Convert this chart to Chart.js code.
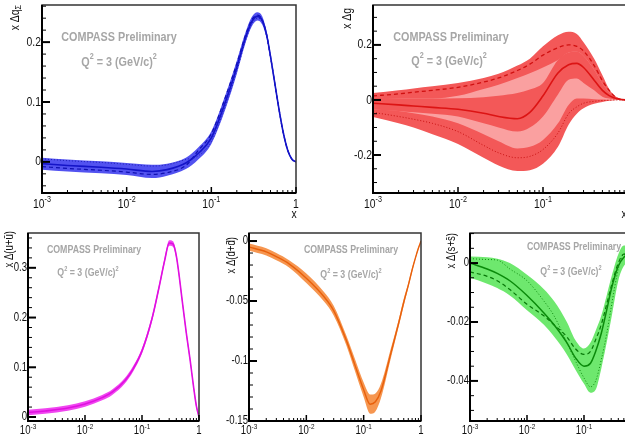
<!DOCTYPE html>
<html>
<head>
<meta charset="utf-8">
<script src="https://cdn.jsdelivr.net/npm/chart.js@4.4.1/dist/chart.umd.min.js"></script>
<style>
html, body { margin: 0; padding: 0; background: #fff; }
#wrap { position: relative; width: 625px; height: 439px; overflow: hidden; background: #fff; }
canvas { position: absolute; }
</style>
</head>
<body>
<div id="wrap">
  <canvas id="pq"></canvas>
  <canvas id="pg"></canvas>
  <canvas id="pu"></canvas>
  <canvas id="pd"></canvas>
  <canvas id="ps"></canvas>
</div>
<script>
// x axis ticks, shared by every panel (log scale 1e-3 .. 1)
const xTickVals = [0.001, 0.01, 0.1, 1]
const xTickBase = ['10', '10', '10', '1']
const xTickExp = ['-3', '-2', '-1', '']

// x Δq_Σ  (blue)
const qX    = [0.001, 0.002, 0.005, 0.01, 0.02, 0.03, 0.05, 0.07, 0.1, 0.15, 0.2, 0.25, 0.3, 0.35, 0.4, 0.45, 0.5, 0.6, 0.7, 0.8, 0.9, 1]
const qMid  = [-0.003, -0.006, -0.009, -0.012, -0.016, -0.013, -0.002, 0.014, 0.040, 0.104, 0.158, 0.205, 0.234, 0.243, 0.236, 0.212, 0.176, 0.106, 0.052, 0.019, 0.004, 0]
const qUp   = [0.007, 0.004, 0.001, -0.002, -0.005, -0.003, 0.007, 0.024, 0.051, 0.116, 0.169, 0.214, 0.242, 0.250, 0.243, 0.218, 0.181, 0.110, 0.055, 0.021, 0.005, 0.001]
const qLo   = [-0.013, -0.016, -0.019, -0.022, -0.027, -0.023, -0.012, 0.004, 0.030, 0.092, 0.147, 0.196, 0.226, 0.236, 0.229, 0.206, 0.171, 0.102, 0.049, 0.017, 0.003, 0]
const qDash = [-0.008, -0.011, -0.014, -0.017, -0.021, -0.018, -0.006, 0.019, 0.047, 0.112, 0.164, 0.209, 0.237, 0.245, 0.237, 0.212, 0.176, 0.106, 0.052, 0.019, 0.004, 0]
const qDot  = [0.005, 0.002, -0.001, -0.004, -0.007, -0.005, 0.004, 0.010, 0.034, 0.097, 0.152, 0.200, 0.230, 0.240, 0.234, 0.210, 0.175, 0.105, 0.051, 0.019, 0.004, 0]
const qYTicks = [0, 0.1, 0.2]
const qYLabels = ['0', '0.1', '0.2']

// x Δg  (red)
const gX    = [0.001, 0.002, 0.003, 0.005, 0.01, 0.02, 0.03, 0.05, 0.07, 0.1, 0.15, 0.2, 0.25, 0.3, 0.4, 0.5, 0.6, 0.7, 0.8, 1]
const gTop  = [0.025, 0.035, 0.042, 0.050, 0.062, 0.080, 0.095, 0.125, 0.150, 0.195, 0.235, 0.248, 0.240, 0.210, 0.150, 0.090, 0.040, 0.015, 0.004, 0]
const gDash = [0.015, 0.022, 0.028, 0.035, 0.046, 0.065, 0.080, 0.107, 0.130, 0.163, 0.190, 0.200, 0.195, 0.178, 0.125, 0.070, 0.035, 0.012, 0.003, 0]
const gPkHi = [0.008, 0.006, 0.005, 0.005, 0.015, 0.040, 0.055, 0.080, 0.097, 0.118, 0.145, 0.172, 0.175, 0.160, 0.110, 0.060, 0.028, 0.011, 0.003, 0]
const gInHi = [0.008, 0.006, 0.005, 0.005, 0.006, 0.010, 0.015, 0.025, 0.038, 0.062, 0.145, 0.172, 0.175, 0.160, 0.110, 0.060, 0.028, 0.011, 0.003, 0]
const gMid  = [-0.012, -0.018, -0.022, -0.027, -0.034, -0.048, -0.060, -0.068, -0.045, 0.015, 0.098, 0.128, 0.133, 0.118, 0.072, 0.035, 0.016, 0.007, 0.002, 0]
const gInLo = [-0.035, -0.040, -0.045, -0.050, -0.060, -0.085, -0.100, -0.115, -0.100, -0.060, 0.020, 0.073, 0.078, 0.062, 0.035, 0.012, 0.005, 0.002, 0, 0]
const gPkLo = [-0.035, -0.040, -0.048, -0.060, -0.085, -0.125, -0.150, -0.176, -0.170, -0.145, -0.085, -0.018, 0.005, 0.005, 0.003, 0.002, 0.001, 0, 0, 0]
const gDot  = [-0.045, -0.060, -0.070, -0.085, -0.115, -0.165, -0.192, -0.210, -0.205, -0.180, -0.120, -0.050, -0.025, -0.012, -0.005, -0.002, -0.001, 0, 0, 0]
const gBot  = [-0.062, -0.085, -0.100, -0.125, -0.160, -0.210, -0.238, -0.258, -0.255, -0.232, -0.170, -0.090, -0.050, -0.030, -0.014, -0.007, -0.003, -0.001, 0, 0]
const gYTicks = [-0.2, 0, 0.2]
const gYLabels = ['-0.2', '0', '0.2']

// x Δ(u+ū)  (magenta)
const uX   = [0.001, 0.002, 0.005, 0.01, 0.02, 0.03, 0.05, 0.07, 0.1, 0.15, 0.2, 0.25, 0.3, 0.35, 0.4, 0.45, 0.5, 0.6, 0.7, 0.8, 0.9, 1]
const uMid = [0.009, 0.012, 0.018, 0.026, 0.039, 0.050, 0.073, 0.097, 0.133, 0.198, 0.262, 0.315, 0.350, 0.348, 0.324, 0.283, 0.240, 0.168, 0.114, 0.062, 0.022, 0]
const uUp  = [0.0145, 0.0175, 0.0235, 0.0315, 0.0445, 0.0555, 0.0785, 0.1025, 0.1385, 0.2035, 0.2675, 0.3205, 0.3555, 0.3535, 0.3295, 0.2885, 0.2455, 0.1735, 0.1195, 0.0665, 0.0265, 0.002]
const uLo  = [0.0035, 0.0065, 0.0125, 0.0205, 0.0335, 0.0445, 0.0675, 0.0915, 0.1275, 0.1925, 0.2565, 0.3095, 0.3445, 0.3425, 0.3185, 0.2775, 0.2345, 0.1625, 0.1085, 0.0575, 0.0175, 0]
const uYTicks = [0, 0.1, 0.2, 0.3]
const uYLabels = ['0', '0.1', '0.2', '0.3']

// x Δ(d+d̄)  (orange)
const dX   = [0.001, 0.002, 0.003, 0.005, 0.01, 0.02, 0.03, 0.05, 0.07, 0.1, 0.13, 0.16, 0.2, 0.3, 0.4, 0.5, 0.6, 0.7, 0.8, 0.9, 1]
const dMid = [-0.005, -0.009, -0.013, -0.019, -0.031, -0.046, -0.058, -0.083, -0.103, -0.124, -0.136, -0.134, -0.125, -0.093, -0.070, -0.051, -0.037, -0.024, -0.014, -0.006, 0]
const dUp  = [-0.002, -0.006, -0.010, -0.016, -0.027, -0.042, -0.054, -0.079, -0.098, -0.118, -0.128, -0.127, -0.119, -0.089, -0.067, -0.048, -0.035, -0.022, -0.013, -0.005, 0]
const dLo  = [-0.008, -0.012, -0.016, -0.022, -0.035, -0.050, -0.062, -0.087, -0.108, -0.130, -0.144, -0.142, -0.131, -0.097, -0.073, -0.054, -0.039, -0.026, -0.015, -0.007, 0]
const dYTicks = [-0.15, -0.1, -0.05, 0]
const dYLabels = ['-0.15', '-0.1', '-0.05', '0']

// x Δ(s+s̄)  (green)
const sX    = [0.001, 0.002, 0.003, 0.005, 0.01, 0.02, 0.03, 0.05, 0.07, 0.1, 0.13, 0.16, 0.2, 0.25, 0.3, 0.4, 0.5, 0.6, 0.7, 0.8, 1]
const sMid  = [0.000, -0.002, -0.0035, -0.006, -0.011, -0.017, -0.021, -0.027, -0.032, -0.035, -0.034, -0.030, -0.024, -0.016, -0.009, -0.001, 0.002, 0.003, 0.002, 0.001, 0]
const sUp   = [0.0022, 0.002, 0.0015, 0.000, -0.004, -0.009, -0.013, -0.020, -0.026, -0.029, -0.027, -0.023, -0.018, -0.011, -0.005, 0.003, 0.006, 0.006, 0.005, 0.003, 0]
const sLo   = [-0.005, -0.007, -0.0085, -0.011, -0.016, -0.021, -0.025, -0.031, -0.036, -0.041, -0.044, -0.043, -0.036, -0.027, -0.019, -0.006, -0.001, 0, 0, 0, 0]
const sDash = [-0.003, -0.0045, -0.006, -0.009, -0.014, -0.018, -0.021, -0.025, -0.029, -0.031, -0.030, -0.026, -0.021, -0.014, -0.008, 0.000, 0.003, 0.003, 0.002, 0.001, 0]
const sDot  = [0.0015, 0.0012, 0.001, -0.002, -0.006, -0.013, -0.018, -0.027, -0.033, -0.039, -0.042, -0.040, -0.033, -0.024, -0.015, -0.002, 0.003, 0.003, 0.002, 0.001, 0]
const sYTicks = [-0.04, -0.02, 0]
const sYLabels = ['-0.04', '-0.02', '0']

// Arial-like face squeezed horizontally, close to the narrow Helvetica of the original
const FACE = '"Liberation Sans", Arial, sans-serif'
const COND = 0.8
const GREY = '#a6a6a6'

function pts(xs, ys) {
    return xs.map((x, i) => ({x: x, y: ys[i]}))
}

function line(xs, ys, color, width, dash) {
    return {
        data: pts(xs, ys), borderColor: color, borderWidth: width, borderDash: dash || [],
        pointRadius: 0, fill: false, cubicInterpolationMode: 'monotone'
    }
}

// upper edge of a band, filled down to the next dataset
function bandTop(xs, ys, color) {
    return {
        data: pts(xs, ys), borderColor: 'rgba(0,0,0,0)', borderWidth: 0, backgroundColor: color,
        pointRadius: 0, fill: '+1', cubicInterpolationMode: 'monotone'
    }
}

function bandBottom(xs, ys) {
    return {
        data: pts(xs, ys), borderColor: 'rgba(0,0,0,0)', borderWidth: 0,
        pointRadius: 0, fill: false, cubicInterpolationMode: 'monotone'
    }
}

// text with superscript / subscript pieces: parts = [[text, 'n'|'sup'|'sub'], ...]
function rich(ctx, parts, x, y, size, align, bold) {
    const font = (s) => (bold ? 'bold ' : '') + s + 'px ' + FACE
    const sz = (k) => k === 'n' ? size : Math.round(size * 0.68)
    let total = 0
    const widths = parts.map(([t, k]) => {
        ctx.font = font(sz(k))
        const w = ctx.measureText(t).width * COND
        total += w
        return w
    })
    let cx = align === 'center' ? x - total / 2 : align === 'right' ? x - total : x
    ctx.textAlign = 'left'
    ctx.textBaseline = 'middle'
    parts.forEach(([t, k], i) => {
        ctx.font = font(sz(k))
        const dy = k === 'sup' ? -size * 0.38 : k === 'sub' ? size * 0.3 : 0
        ctx.save()
        ctx.translate(cx, y + dy)
        ctx.scale(COND, 1)
        ctx.fillText(t, 0, 0)
        ctx.restore()
        cx += widths[i]
    })
}

function drawDeco(chart, cfg) {
    const {ctx, chartArea: a, scales: {x, y}} = chart
    const ox = cfg.left, oy = cfg.top
    ctx.save()

    // frame
    ctx.strokeStyle = '#333'
    ctx.lineWidth = 1.5
    ctx.strokeRect(a.left, a.top, a.right - a.left, a.bottom - a.top)
    ctx.strokeStyle = '#000'
    ctx.lineWidth = 2
    ctx.beginPath()
    ctx.moveTo(a.left, a.top)
    ctx.lineTo(a.left, a.bottom)
    ctx.lineTo(a.right, a.bottom)
    ctx.stroke()

    // y ticks (inside)
    const k0 = Math.ceil(y.min / cfg.yStep - 1e-6)
    const k1 = Math.floor(y.max / cfg.yStep + 1e-6)
    for (let k = k0; k <= k1; k++) {
        const v = k * cfg.yStep
        const major = cfg.yTicks.some(t => Math.abs(t - v) < cfg.yStep / 10)
        const py = y.getPixelForValue(v)
        ctx.lineWidth = major ? 2 : 1
        ctx.beginPath()
        ctx.moveTo(a.left, py)
        ctx.lineTo(a.left + (major ? 8 : 4), py)
        ctx.stroke()
    }
    // x ticks (log)
    for (let n = -3; n <= 0; n++) {
        for (let m = 1; m <= 9; m++) {
            const v = m * Math.pow(10, n)
            if (v > x.max * 1.0001) break
            const px = x.getPixelForValue(v)
            ctx.lineWidth = m === 1 ? 1.5 : 1
            ctx.beginPath()
            ctx.moveTo(px, a.bottom)
            ctx.lineTo(px, a.bottom - (m === 1 ? 6 : 3))
            ctx.stroke()
        }
    }

    // tick labels
    ctx.fillStyle = '#111'
    cfg.yTicks.forEach((v, i) => {
        rich(ctx, [[cfg.yLabels[i], 'n']], a.left - 1, y.getPixelForValue(v), cfg.tick, 'right')
    })
    xTickVals.forEach((v, i) => {
        const parts = [[xTickBase[i], 'n']]
        if (xTickExp[i]) parts.push([xTickExp[i], 'sup'])
        rich(ctx, parts, x.getPixelForValue(v), a.bottom + cfg.xLab, cfg.tick, 'center')
    })
    if (cfg.xTitle) rich(ctx, [['x', 'n']], cfg.xTitle[0] - ox, cfg.xTitle[1] - oy, cfg.tick, 'center')

    // y title, rotated
    ctx.save()
    ctx.translate(cfg.yTitle[0] - ox, cfg.yTitle[1] - oy)
    ctx.rotate(-Math.PI / 2)
    rich(ctx, cfg.yTitleParts, 0, 0, cfg.tick, 'right')
    ctx.restore()

    // annotations
    ctx.fillStyle = GREY
    rich(ctx, [['COMPASS Preliminary', 'n']], cfg.tag[0] - ox, cfg.tag[1] - oy, cfg.tagSize, 'center', true)
    rich(ctx, [['Q', 'n'], ['2', 'sup'], [' = 3 (GeV/c)', 'n'], ['2', 'sup']],
        cfg.q2[0] - ox, cfg.q2[1] - oy, cfg.q2Size, 'center', true)
    ctx.restore()
}

function panel(id, cfg) {
    const cv = document.getElementById(id)
    cv.width = cfg.w
    cv.height = cfg.h
    cv.style.width = cfg.w + 'px'
    cv.style.height = cfg.h + 'px'
    cv.style.left = cfg.left + 'px'
    cv.style.top = cfg.top + 'px'
    const f = cfg.frame
    new Chart(cv, {
        type: 'line',
        data: {datasets: cfg.datasets},
        options: {
            responsive: false,
            animation: false,
            events: [],
            layout: {
                padding: {left: f[0] - cfg.left, top: f[1] - cfg.top, right: cfg.left + cfg.w - f[2], bottom: cfg.top + cfg.h - f[3]}
            },
            plugins: {legend: {display: false}, tooltip: {enabled: false}},
            scales: {
                x: {type: 'logarithmic', min: 0.001, max: 1, display: false},
                y: {type: 'linear', min: cfg.yMin, max: cfg.yMax, display: false}
            }
        },
        plugins: [{id: 'deco', afterDraw: (chart) => drawDeco(chart, cfg)}]
    })
}

// top left: x Δq_Σ
panel('pq', {
    left: 0, top: 0, w: 310, h: 220, frame: [42, 5, 296, 193],
    yMin: -0.052, yMax: 0.262, yStep: 0.02, yTicks: qYTicks, yLabels: qYLabels,
    tick: 13, xLab: 11, xTitle: [294, 214],
    yTitle: [15, 5], yTitleParts: [['x Δq', 'n'], ['Σ', 'sub']],
    tag: [119, 37], tagSize: 13.5, q2: [119, 62], q2Size: 13.5,
    datasets: [
        line(qX, qMid, '#1414c8', 1.6),
        line(qX, qDash, '#1010b0', 1.2, [4, 3]),
        line(qX, qDot, '#2020b8', 1, [1, 2]),
        bandTop(qX, qUp, 'rgb(82, 82, 240)'),
        bandBottom(qX, qLo)
    ]
})

// top right: x Δg
panel('pg', {
    left: 310, top: 0, w: 330, h: 220, frame: [373, 5, 628, 193],
    yMin: -0.338, yMax: 0.345, yStep: 0.05, yTicks: gYTicks, yLabels: gYLabels,
    tick: 13, xLab: 11, xTitle: [624, 214],
    yTitle: [347, 8], yTitleParts: [['x Δg', 'n']],
    tag: [451, 37], tagSize: 13.5, q2: [449, 61], q2Size: 13.5,
    datasets: [
        line(gX, gMid, '#dc1414', 1.6),
        line(gX, gDash, '#d01010', 1.3, [4, 3]),
        line(gX, gDot, '#c81010', 1, [1, 2]),
        bandTop(gX, gInHi, 'rgb(243, 88, 88)'),
        bandBottom(gX, gInLo),
        bandTop(gX, gPkHi, 'rgb(250, 160, 160)'),
        bandBottom(gX, gPkLo),
        bandTop(gX, gTop, 'rgb(243, 88, 88)'),
        bandBottom(gX, gBot)
    ]
})

// bottom left: x Δ(u+ū)
panel('pu', {
    left: 0, top: 220, w: 210, h: 219, frame: [28, 233, 199, 421],
    yMin: -0.008, yMax: 0.37, yStep: 0.02, yTicks: uYTicks, yLabels: uYLabels,
    tick: 12, xLab: 10,
    yTitle: [10, 231], yTitleParts: [['x Δ(u+ū)', 'n']],
    tag: [94, 250], tagSize: 11, q2: [88, 273], q2Size: 11,
    datasets: [
        line(uX, uMid, '#e010e0', 1.6),
        bandTop(uX, uUp, 'rgb(240, 70, 240)'),
        bandBottom(uX, uLo)
    ]
})

// bottom middle: x Δ(d+d̄)
panel('pd', {
    left: 210, top: 220, w: 215, h: 219, frame: [249, 233, 421, 421],
    yMin: -0.15, yMax: 0.0067, yStep: 0.01, yTicks: dYTicks, yLabels: dYLabels,
    tick: 12, xLab: 10,
    yTitle: [232, 237], yTitleParts: [['x Δ(d+d\u0304)', 'n']],
    tag: [351, 250], tagSize: 11, q2: [351, 275], q2Size: 11,
    datasets: [
        line(dX, dMid, '#e8600c', 1.4),
        bandTop(dX, dUp, 'rgb(246, 150, 80)'),
        bandBottom(dX, dLo)
    ]
})

// bottom right: x Δ(s+s̄)
panel('ps', {
    left: 425, top: 220, w: 225, h: 219, frame: [470, 233, 641, 421],
    yMin: -0.0536, yMax: 0.0102, yStep: 0.005, yTicks: sYTicks, yLabels: sYLabels,
    tick: 12, xLab: 10,
    yTitle: [452, 233], yTitleParts: [['x Δ(s+s\u0304)', 'n']],
    tag: [574, 247], tagSize: 11, q2: [571, 272], q2Size: 11,
    datasets: [
        line(sX, sMid, '#0a8a0a', 1.5),
        line(sX, sDash, '#087808', 1.2, [4, 3]),
        line(sX, sDot, '#108c10', 1, [1, 2]),
        bandTop(sX, sUp, 'rgb(110, 232, 110)'),
        bandBottom(sX, sLo)
    ]
})
</script>
</body>
</html>
